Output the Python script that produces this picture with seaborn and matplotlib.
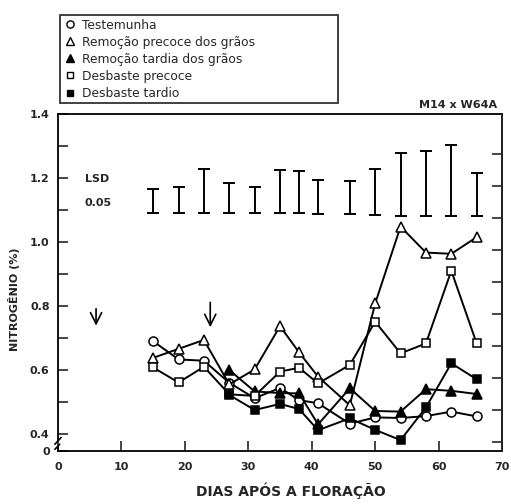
import numpy as np
import pandas as pd
import seaborn as sns
import matplotlib.pyplot as plt
from matplotlib.lines import Line2D

# dias apos a floracao
days = [15, 19, 23, 27, 31, 35, 38, 41, 46, 50, 54, 58, 62, 66]
days_late = [27, 31, 35, 38, 41, 46, 50, 54, 58, 62, 66]

testemunha = [0.690, 0.633, 0.629, 0.560, 0.512, 0.544, 0.506, 0.496, 0.432, 0.452, 0.450, 0.456, 0.470, 0.455]
remocao_precoce = [0.638, 0.666, 0.694, 0.555, 0.602, 0.737, 0.655, 0.579, 0.490, 0.808, 1.048, 0.967, 0.963, 1.015]
desbaste_precoce = [0.608, 0.561, 0.610, 0.524, 0.519, 0.595, 0.607, 0.558, 0.616, 0.751, 0.652, 0.683, 0.910, 0.683]
remocao_tardia = [0.600, 0.533, 0.528, 0.527, 0.430, 0.543, 0.472, 0.470, 0.540, 0.535, 0.525]
desbaste_tardio = [0.522, 0.475, 0.494, 0.478, 0.412, 0.449, 0.413, 0.381, 0.483, 0.621, 0.571]

# LSD 0.05 bars
lsd_low = [1.092, 1.092, 1.092, 1.090, 1.090, 1.090, 1.090, 1.088, 1.088, 1.085, 1.080, 1.080, 1.080, 1.080]
lsd_high = [1.165, 1.171, 1.227, 1.183, 1.173, 1.225, 1.223, 1.194, 1.192, 1.227, 1.279, 1.285, 1.304, 1.217]

labels = ['Testemunha', 'Remoção precoce dos grãos', 'Remoção tardia dos grãos',
          'Desbaste precoce', 'Desbaste tardio']

sns.set_style("ticks")
plt.rcParams['font.family'] = ['DejaVu Sans']

fig = plt.figure(figsize=(5.11, 5.04), dpi=100)
ax = fig.add_axes([0.1135, 0.1052, 0.869, 0.6687])

series = [
    (days, testemunha, 'o', 'white', 6.5),
    (days, remocao_precoce, '^', 'white', 6.5),
    (days_late, remocao_tardia, '^', 'black', 6.5),
    (days, desbaste_precoce, 's', 'white', 5.5),
    (days_late, desbaste_tardio, 's', 'black', 5.5),
]
for (x, y, m, fc, ms), lab in zip(series, labels):
    sns.lineplot(x=x, y=y, ax=ax, color='black', lw=1.4, marker=m, markersize=ms,
                 markerfacecolor=fc, markeredgecolor='black', markeredgewidth=1.1,
                 legend=False)

# LSD bars
low = np.array(lsd_low)
high = np.array(lsd_high)
ax.errorbar(days, (low + high) / 2, yerr=(high - low) / 2, fmt='none',
            ecolor='black', elinewidth=1.4, capsize=4, capthick=1.4)
ax.text(4.2, 1.196, 'LSD', fontsize=8, fontweight='bold', va='center', ha='left')
ax.text(4.2, 1.122, '0.05', fontsize=8, fontweight='bold', va='center', ha='left')

# arrows
for xa, y0, y1 in [(6, 0.80, 0.73), (24, 0.82, 0.725)]:
    ax.annotate('', xy=(xa, y1), xytext=(xa, y0),
                arrowprops=dict(arrowstyle='->', lw=1.2, color='black', mutation_scale=20))

ax.set_xlim(0, 70)
ax.set_ylim(0.347, 1.4)
ax.set_xticks(range(0, 71, 10))
ax.set_yticks([0.347, 0.4, 0.6, 0.8, 1.0, 1.2, 1.4])
ax.set_yticklabels(['0', '0.4', '0.6', '0.8', '1.0', '1.2', '1.4'])
ax.set_yticks([0.5, 0.7, 0.9, 1.1, 1.3], minor=True)
ax.tick_params(axis='both', which='both', direction='in', length=7, width=1.2,
               labelsize=8, pad=6)
ax.tick_params(axis='x', pad=8)
for t in ax.get_xticklabels() + ax.get_yticklabels():
    t.set_fontweight('bold')

for s in ax.spines.values():
    s.set_linewidth(1.3)
    s.set_color('black')
ax.spines['left'].set_bounds(0.381, 1.4)

# axis break on the left spine
tr = ax.transAxes
ax.plot([-0.007, 0.007], [0.020, 0.040], transform=tr, color='black', lw=1.2, clip_on=False)
ax.plot([-0.007, 0.004], [0.005, 0.020], transform=tr, color='black', lw=1.2, clip_on=False)
ax.plot([0, 0], [0, 0.012], transform=tr, color='black', lw=1.3, clip_on=False)

# right side ticks
ax2 = ax.twinx()
ax2.set_ylim(ax.get_ylim())
ax2.set_yticks(np.arange(0.375, 1.3, 0.1))
ax2.tick_params(axis='y', direction='in', length=7, width=1.2, labelright=False)
ax2.spines['right'].set_linewidth(1.3)
for s in ['left', 'top', 'bottom']:
    ax2.spines[s].set_visible(False)

ax.set_xlabel('DIAS APÓS A FLORAÇÃO', fontsize=10, fontweight='bold')
ax.xaxis.set_label_coords(0.525, -0.095)
ax.set_ylabel('NITROGÊNIO (%)', fontsize=8, fontweight='bold')
ax.yaxis.set_label_coords(-0.085, 0.45)

ax.text(0.99, 1.027, 'M14 x W64A', transform=ax.transAxes, ha='right', va='center',
        fontsize=8, fontweight='bold')

handles = [Line2D([], [], linestyle='none', marker=m, markersize=ms * 0.8,
                  markerfacecolor=fc, markeredgecolor='black', markeredgewidth=1.0)
           for (_, _, m, fc, ms) in series]
leg = ax.legend(handles, labels, loc='upper left', mode='expand',
                bbox_to_anchor=(60 / 511, 1 - 107 / 504, 278 / 511, 92 / 504),
                bbox_transform=fig.transFigure, borderaxespad=0, fontsize=8.8,
                frameon=True, fancybox=False, edgecolor='black', borderpad=0.3,
                labelspacing=0.33, handlelength=1.0, handletextpad=0.5)
leg.get_frame().set_linewidth(1.3)

plt.savefig('out.png', dpi=100)
